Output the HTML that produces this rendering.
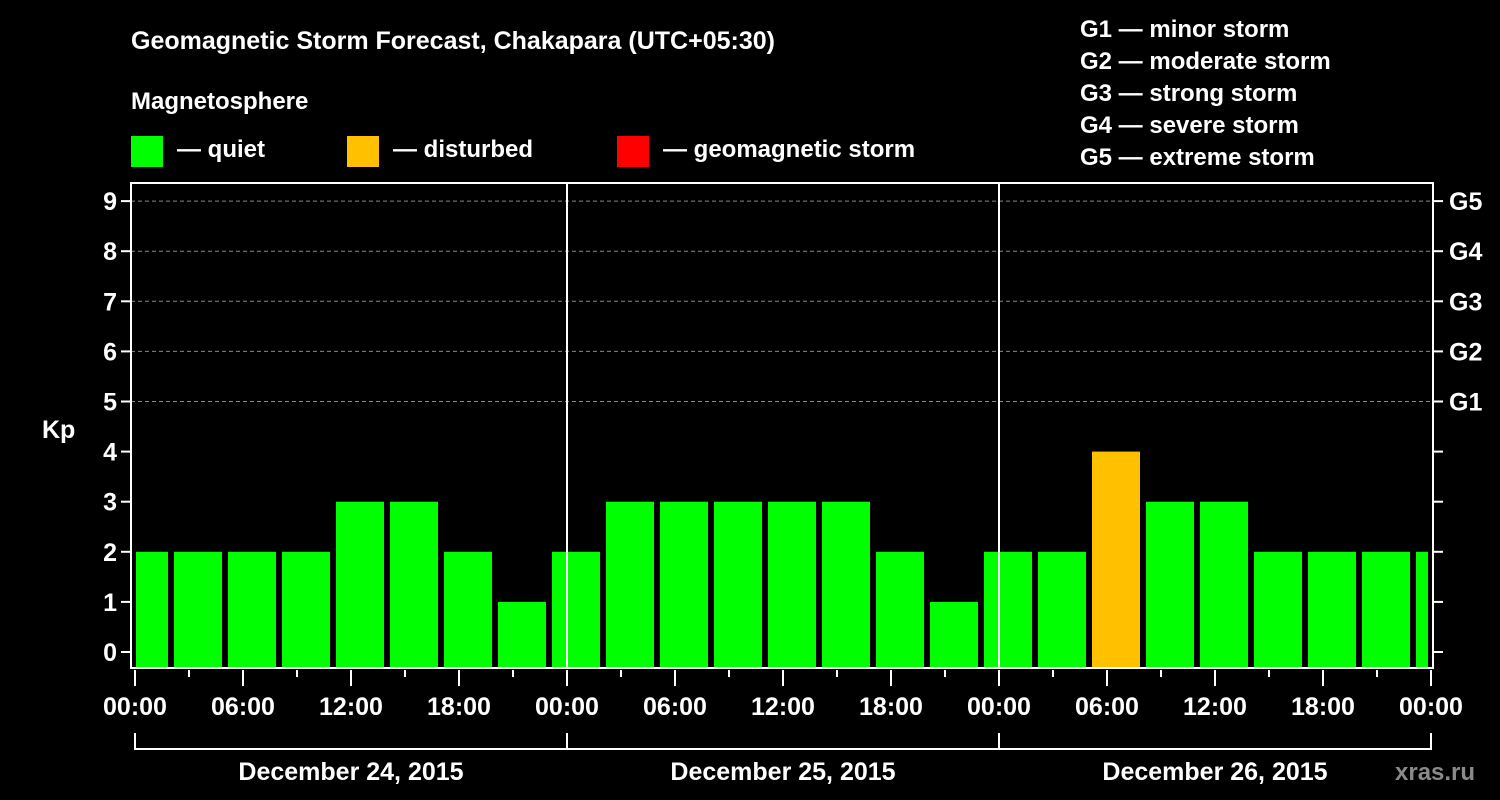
<!DOCTYPE html>
<html><head><meta charset="utf-8"><style>
body{margin:0;background:#000;width:1500px;height:800px;overflow:hidden}
svg{display:block}
text{font-family:"Liberation Sans",Arial,sans-serif;font-weight:bold;fill:#fff}
</style></head><body>
<svg id="chart" width="1500" height="800">
<text x="131" y="49" font-size="25">Geomagnetic Storm Forecast, Chakapara (UTC+05:30)</text>
<text x="131" y="109" font-size="24">Magnetosphere</text>
<rect x="131" y="136" width="32" height="31" fill="#00ff00"/>
<text x="177" y="157" font-size="24">— quiet</text>
<rect x="347" y="136" width="32" height="31" fill="#ffc000"/>
<text x="393" y="157" font-size="24">— disturbed</text>
<rect x="617" y="136" width="32" height="31" fill="#ff0000"/>
<text x="663" y="157" font-size="24">— geomagnetic storm</text>
<g font-size="24">
<text x="1080" y="37" font-size="24">G1 — minor storm</text>
<text x="1080" y="69" font-size="24">G2 — moderate storm</text>
<text x="1080" y="101" font-size="24">G3 — strong storm</text>
<text x="1080" y="133" font-size="24">G4 — severe storm</text>
<text x="1080" y="165" font-size="24">G5 — extreme storm</text>
</g>
<text x="42" y="438" font-size="25">Kp</text>
<text x="1395" y="780" font-size="24" fill="#888" style="fill:#8a8a8a">xras.ru</text>
<g id="plot"></g>
</svg>
<script>
const kpValues=[2,2,2,2,3,3,2,1,2,3,3,3,3,3,2,1,2,2,4,3,3,2,2,2,2];
const yTicks=[0,1,2,3,4,5,6,7,8,9];
const gLabels=["G1","G2","G3","G4","G5"];
const xTickLabels=["00:00","06:00","12:00","18:00","00:00","06:00","12:00","18:00","00:00","06:00","12:00","18:00","00:00"];
const dayLabels=["December 24, 2015","December 25, 2015","December 26, 2015"];
const NS="http://www.w3.org/2000/svg";
const g=document.getElementById('plot');
const L=131,R=1433,T=183,B=668,X0=135,PXH=18;
const xs=h=>X0+h*PXH;
const ys=v=>652-v*50.1;
function el(t,a,p){const e=document.createElementNS(NS,t);for(const k in a)e.setAttribute(k,a[k]);(p||g).appendChild(e);return e;}
// grid
for(let i=5;i<=9;i++){const l=el('line',{x1:L,x2:R,y1:ys(i),y2:ys(i),stroke:'#888','stroke-dasharray':'4,3','stroke-width':1});

}
// bars
kpValues.forEach((v,k)=>{
 let x1=xs(3*k-1)+3,x2=xs(3*k+2)-3;
 x1=Math.max(x1,L+5);x2=Math.min(x2,R-5);
 const c=v>=5?'#ff0000':(v>=4?'#ffc000':'#00ff00');
 const r=el('rect',{x:x1,y:ys(v),width:x2-x1,height:B-ys(v),fill:c});
 
 
});
// day separators
for(let d=1;d<3;d++){const l=el('line',{x1:xs(24*d),x2:xs(24*d),y1:T,y2:B,stroke:'#fff','stroke-width':2});

}
// frame
const f=el('rect',{x:L,y:T,width:R-L,height:B-T,fill:'none',stroke:'#fff','stroke-width':2});


// y ticks
yTicks.forEach(v=>{
 el('line',{x1:L-10,x2:L,y1:ys(v),y2:ys(v),stroke:'#fff','stroke-width':2});
 el('line',{x1:R,x2:R+10,y1:ys(v),y2:ys(v),stroke:'#fff','stroke-width':2});
 const t=el('text',{x:L-14,y:ys(v)+9,'text-anchor':'end','font-size':25});t.textContent=v;
 
 
});
gLabels.forEach((s,i)=>{const t=el('text',{x:1449,y:ys(5+i)+9,'font-size':25});t.textContent=s;
 
 });
// x ticks
for(let h=0;h<=72;h+=3){const major=h%6===0;el('line',{x1:xs(h),x2:xs(h),y1:B+2,y2:B+(major?18:9),stroke:'#fff','stroke-width':2});}
xTickLabels.forEach((s,i)=>{const t=el('text',{x:xs(6*i*1),y:715,'text-anchor':'middle','font-size':25});t.textContent=s;
 t.setAttribute('x',xs(6*i));
 
 });
// day brackets
el('line',{x1:xs(0),x2:xs(72),y1:749,y2:749,stroke:'#fff','stroke-width':2});
for(let d=0;d<=3;d++)el('line',{x1:xs(24*d),x2:xs(24*d),y1:733,y2:750,stroke:'#fff','stroke-width':2});
dayLabels.forEach((s,i)=>{const t=el('text',{x:xs(24*i+12),y:780,'text-anchor':'middle','font-size':25});t.textContent=s;
 
 });
</script>
</body></html>
